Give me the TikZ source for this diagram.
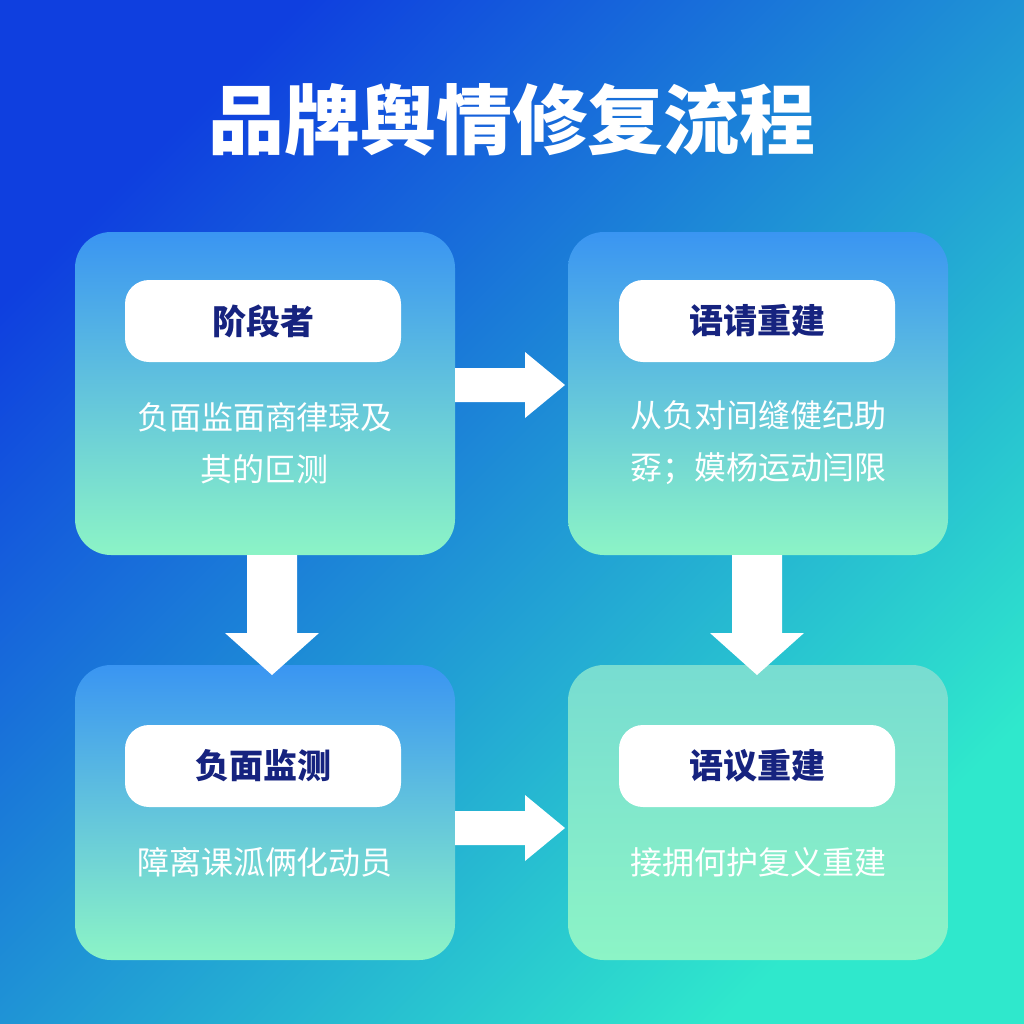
\documentclass[tikz,border=0pt]{standalone}
\usepackage{fontspec}
\newfontfamily\cjk{Noto Sans CJK SC}
\definecolor{bgA}{HTML}{0F3FDF}
\definecolor{bgM}{HTML}{1763DF}
\definecolor{bgB}{HTML}{2FE8CC}
\definecolor{bxT}{HTML}{3A95F2}
\definecolor{bxB}{HTML}{8CF4C6}
\definecolor{nav}{HTML}{16237F}
\begin{document}
\begin{tikzpicture}[x=0.5pt,y=-0.5pt,
  box/.style={rounded corners=18pt,top color=bxT,bottom color=bxB,draw=none},
  pill/.style={fill=white,rounded corners=12pt,minimum width=138pt,minimum height=41pt,font=\cjk\bfseries\fontsize{17}{20}\selectfont,text=nav},
  body/.style={text=white,font=\cjk\fontsize{16}{26}\selectfont,align=center},
  arr/.style={fill=white,draw=none}]
\useasboundingbox (0,0) rectangle (1024,1024);
\shade[top color=bgA,middle color=bgM,bottom color=bgB,shading angle=45] (0,0) rectangle (1024,1024);
\node[text=white,font=\cjk\bfseries\fontsize{38}{42}\selectfont] (title) at (512,120) {品牌舆情修复流程};
\path[box] (75,232) rectangle (455,555);
\path[box] (568,232) rectangle (948,555);
\path[box] (75,665) rectangle (455,960);
\path[box,top color=bxB!75!bxT,bottom color=bxB] (568,665) rectangle (948,960);
\node[pill] (p1) at (263,321) {阶段者};
\node[pill] (p2) at (757,321) {语请重建};
\node[pill] (p3) at (263,766) {负面监测};
\node[pill] (p4) at (757,766) {语议重建};
\node[body] (b1) at (265,443) {负面监面商律琭及\\其的叵测};
\node[body] (b2) at (758,443) {从负对间缝健纪助\\孬；嫫杨运动闫限};
\node[body] (b3) at (265,862) {障离课泒俩化动员};
\node[body] (b4) at (758,862) {接拥何护复义重建};
\coordinate (r1) at (455,385);
\coordinate (r2) at (455,828);
\coordinate (d1) at (272,555);
\coordinate (d2) at (757,555);
\foreach \c in {r1,r2}
  \fill[arr] (\c) ++(0,-17) -- ++(70,0) -- ++(0,-16) -- ++(40,33) -- ++(-40,33) -- ++(0,-16) -- ++(-70,0) -- cycle;
\foreach \c in {d1,d2}
  \fill[arr] (\c) ++(-25,0) -- ++(0,78) -- ++(-22,0) -- ++(47,42) -- ++(47,-42) -- ++(-22,0) -- ++(0,-78) -- cycle;
\end{tikzpicture}
\end{document}
